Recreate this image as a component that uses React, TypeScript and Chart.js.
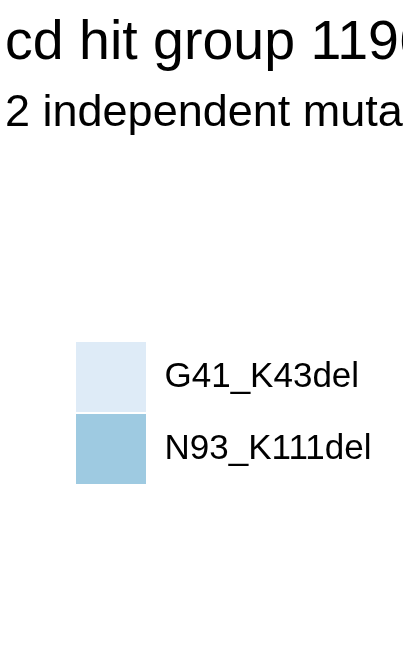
import React, { useEffect, useRef } from "react";
import { Chart, registerables } from "chart.js";

Chart.register(...registerables);

const TITLE = "cd hit group 1196";
const SUBTITLE = "2 independent mutations";
const mutationLabels = ["G41_K43del", "N93_K111del"];
const mutationCounts = [1, 1];
const sliceColors = ["#DEEBF7", "#9ECAE1"];

const FONT = "'Liberation Sans', Arial, Helvetica, sans-serif";

export default function App() {
  const ref = useRef<HTMLCanvasElement>(null);

  useEffect(() => {
    if (!ref.current) return;
    const chart = new Chart(ref.current, {
      type: "pie",
      data: {
        labels: mutationLabels,
        datasets: [
          {
            data: mutationCounts,
            backgroundColor: sliceColors,
            borderColor: "#ffffff",
            borderWidth: 2,
          },
        ],
      },
      options: {
        responsive: false,
        animation: false,
        layout: { padding: { left: 5, top: 0, right: 0, bottom: 0 } },
        scales: {
          legendGap: {
            type: "linear",
            position: "left",
            axis: "y",
            weight: 3000,
            display: true,
            grid: { display: false },
            border: { display: false },
            ticks: { display: false },
            afterFit: (s: any) => {
              s.width = 70;
            },
          },
        } as any,
        plugins: {
          title: {
            display: true,
            text: TITLE,
            align: "start",
            color: "#000000",
            font: { family: FONT, size: 55.5, weight: "normal", lineHeight: 1.2 },
            padding: { top: 10.3, bottom: 0 },
          },
          subtitle: {
            display: true,
            text: SUBTITLE,
            align: "start",
            color: "#000000",
            font: { family: FONT, size: 45, weight: "normal", lineHeight: 1.2 },
            padding: { top: 9.3, bottom: 14.8 },
          },
          legend: {
            position: "left",
            align: "center",
            fullSize: false,
            labels: {
              boxWidth: 72,
              boxHeight: 72,
              padding: 0,
              color: "#000000",
              font: { family: FONT, size: 35 },
            },
          },
          tooltip: { enabled: false },
        },
      } as any,
    });
    return () => chart.destroy();
  }, []);

  return (
    <div
      style={{
        position: "absolute",
        left: 0,
        top: 0,
        width: 403,
        height: 671,
        overflow: "hidden",
        background: "#ffffff",
      }}
    >
      <canvas ref={ref} width={1200} height={671} style={{ display: "block" }} />
    </div>
  );
}
